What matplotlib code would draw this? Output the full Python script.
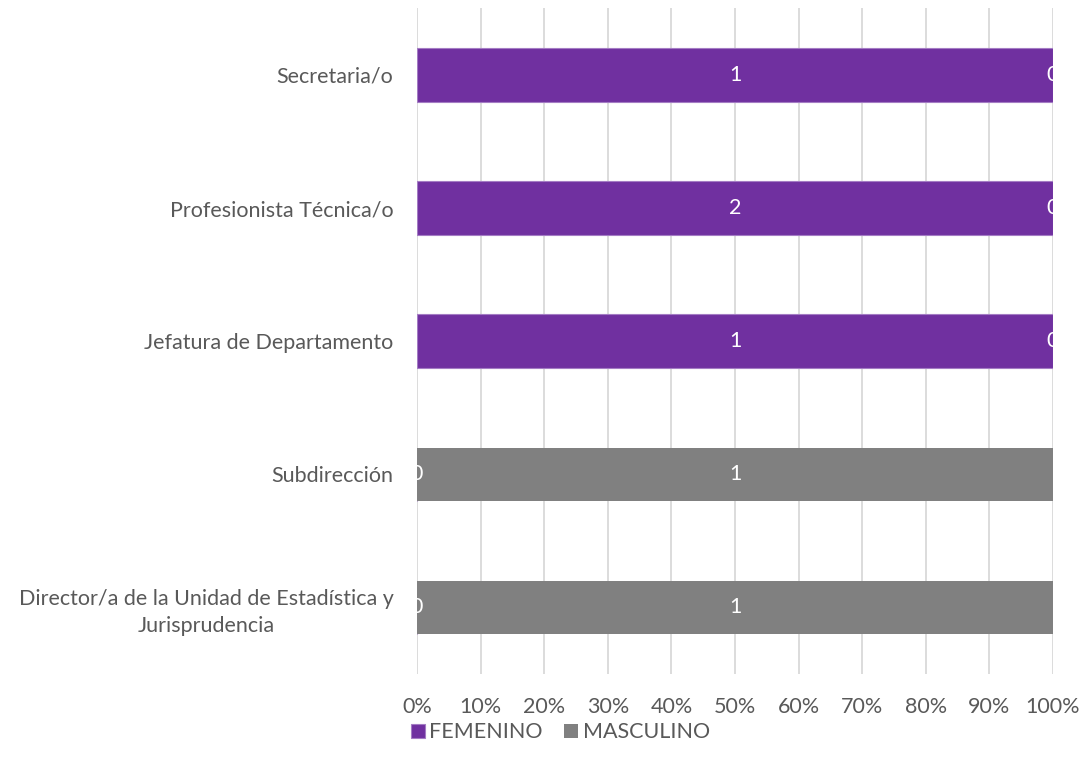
import numpy as np
import matplotlib.pyplot as plt
from matplotlib.ticker import PercentFormatter

plt.rcParams['font.family'] = ['Lato', 'DejaVu Sans']

# data (bottom to top)
categories = ['Director/a de la Unidad de Estadística y\nJurisprudencia',
              'Subdirección',
              'Jefatura de Departamento',
              'Profesionista Técnica/o',
              'Secretaria/o']
femenino = np.array([0, 0, 1, 2, 1])
masculino = np.array([1, 1, 0, 0, 0])

total = femenino + masculino
fem_pct = femenino / total * 100
mas_pct = masculino / total * 100

fig = plt.figure(figsize=(10.86, 7.7), dpi=100)
ax = fig.add_axes([0.384, 0.125, 0.5856, 0.864])

y = np.arange(len(categories))
b1 = ax.barh(y, fem_pct, height=0.4, color='#7030A0', edgecolor='#a47cc4',
             linewidth=0.8, label='FEMENINO', zorder=3)
b2 = ax.barh(y, mas_pct, left=fem_pct, height=0.4, color='#808080',
             label='MASCULINO', zorder=3)

fs = 15.5
ax.bar_label(b1, labels=[str(v) for v in femenino], label_type='center',
             color='white', fontsize=fs, zorder=4)
ax.bar_label(b2, labels=[str(v) for v in masculino], label_type='center',
             color='white', fontsize=fs, zorder=4)

ax.set_xlim(0, 100)
ax.set_ylim(-0.5, 4.5)
ax.set_xticks(np.arange(0, 101, 10))
ax.xaxis.set_major_formatter(PercentFormatter(decimals=0))
ax.set_yticks(y)
ax.set_yticklabels(categories, multialignment='center', linespacing=1.45)
ax.tick_params(axis='both', length=0, labelcolor='#595959', labelsize=fs)
ax.tick_params(axis='y', pad=17)
ax.tick_params(axis='x', pad=17)
ax.grid(axis='x', color='#d9d9d9', linewidth=1.3, zorder=0)
for s in ax.spines.values():
    s.set_visible(False)

h, l = ax.get_legend_handles_labels()
leg = fig.legend(h, l, loc='center', bbox_to_anchor=(0.516, 0.049), ncol=2,
                 frameon=False, fontsize=fs, handlelength=0.65, handleheight=0.65,
                 columnspacing=1.0, handletextpad=0.2)
for t in leg.get_texts():
    t.set_color('#595959')

fig.savefig('out.png', dpi=100)
